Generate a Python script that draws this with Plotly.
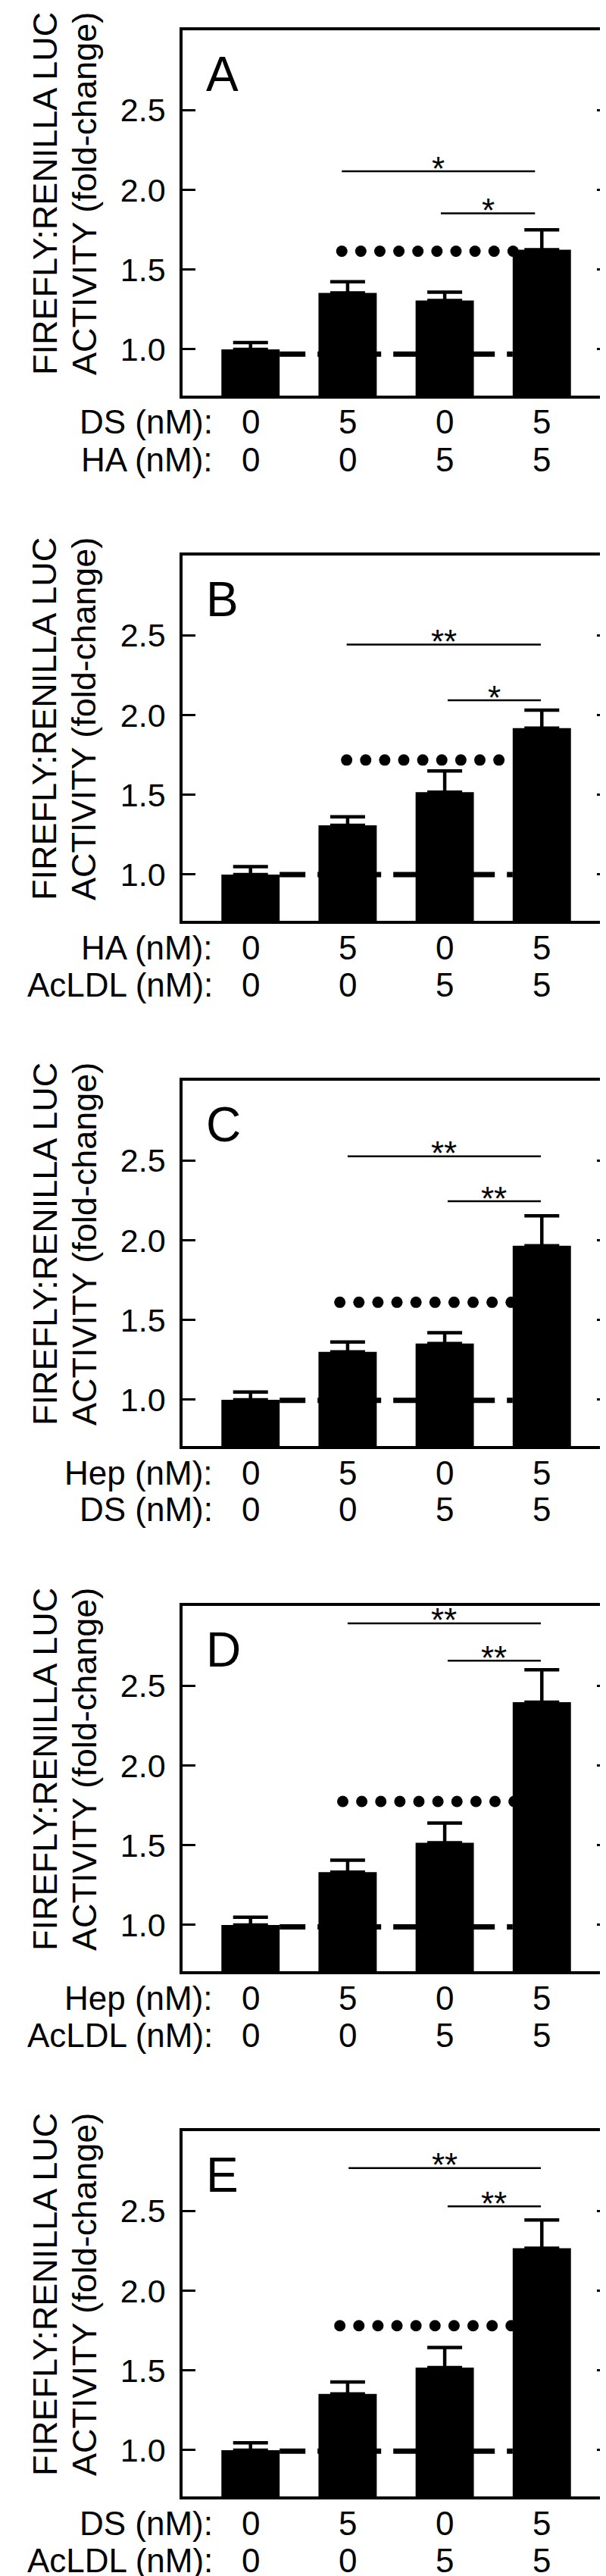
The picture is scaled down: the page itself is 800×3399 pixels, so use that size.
import numpy as np
import plotly.graph_objects as go

W, H = 800, 3399
FONT = "Liberation Sans, Arial, sans-serif"

# ---------------- data ----------------
panels = ["A", "B", "C", "D", "E"]
categories = [0, 1, 2, 3]
row1_labels = ["DS (nM):", "HA (nM):", "Hep (nM):", "Hep (nM):", "DS (nM):"]
row2_labels = ["HA (nM):", "AcLDL (nM):", "DS (nM):", "AcLDL (nM):", "AcLDL (nM):"]
row1_values = ["0", "5", "0", "5"]
row2_values = ["0", "0", "5", "5"]

means_A = [1.00, 1.354, 1.306, 1.624]
errs_A = [0.042, 0.070, 0.053, 0.125]
means_B = [1.00, 1.309, 1.516, 1.918]
errs_B = [0.050, 0.053, 0.134, 0.113]
means_C = [1.00, 1.300, 1.352, 1.965]
errs_C = [0.048, 0.062, 0.068, 0.188]
means_D = [1.00, 1.331, 1.515, 2.397]
errs_D = [0.048, 0.075, 0.124, 0.203]
means_E = [1.00, 1.353, 1.518, 2.266]
errs_E = [0.046, 0.074, 0.126, 0.177]
means = [means_A, means_B, means_C, means_D, means_E]
errs = [errs_A, errs_B, errs_C, errs_D, errs_E]

# reference levels (dashed = control, dotted = additive)
dashed_level = [0.970, 1.000, 0.996, 0.988, 0.994]
dotted_level = [1.615, 1.718, 1.611, 1.774, 1.780]
dotted_start = [0.94, 0.99, 0.92, 0.95, 0.92]

# significance brackets: (x0, x1, y, label)
sig_upper = [(0.94, 2.93, 2.116, "*"), (0.99, 2.99, 2.442, "**"), (1.0, 2.99, 2.526, "**"),
             (1.0, 2.99, 2.891, "**"), (1.01, 2.99, 2.768, "**")]
sig_lower = [(1.96, 2.93, 1.853, "*"), (2.03, 2.99, 2.092, "*"), (2.03, 2.99, 2.244, "**"),
             (2.03, 2.99, 2.657, "**"), (2.03, 2.99, 2.528, "**")]

ytick_vals = [1.0, 1.5, 2.0, 2.5]
ytick_text = ["1.0", "1.5", "2.0", "2.5"]
y_title_1 = "FIREFLY:RENILLA LUC"
y_title_2 = "ACTIVITY (fold-change)"

# ---------------- layout geometry ----------------
PLOT_L, PLOT_R = 233, 797
TOP0, STEP, PH = 32, 693, 482

fig = go.Figure()
annotations = []
layout = dict(width=W, height=H, margin=dict(l=0, r=0, t=0, b=0),
              paper_bgcolor="white", plot_bgcolor="white", showlegend=False,
              font=dict(family=FONT, color="black", size=44))

def py(px):
    return 1 - px / H

for k, p in enumerate(panels):
    n = "" if k == 0 else str(k + 1)
    xa, ya = "x" + n, "y" + n
    top = TOP0 + STEP * k
    bot = top + PH

    layout["xaxis" + n] = dict(domain=[PLOT_L / W, PLOT_R / W], anchor=ya, range=[-0.7, 3.7],
                              showticklabels=False, ticks="", showgrid=False, zeroline=False,
                              showline=True, mirror=True, linecolor="black", linewidth=3.5)
    layout["yaxis" + n] = dict(domain=[py(bot), py(top)], anchor=xa, range=[0.71, 3.0],
                              tickvals=ytick_vals, ticktext=ytick_text, ticks="inside",
                              ticklen=17, tickwidth=3, tickcolor="black", mirror="ticks",
                              showline=True, linecolor="black", linewidth=3.5,
                              showgrid=False, zeroline=False,
                              tickfont=dict(size=43, family=FONT, color="black"),
                              ticklabelstandoff=10)

    # dashed control line
    fig.add_trace(go.Scatter(x=[0.3, 2.7], y=[dashed_level[k]] * 2, mode="lines",
                             line=dict(color="black", width=7, dash="34px,16px"),
                             xaxis=xa, yaxis=ya, hoverinfo="skip"))
    # bars
    fig.add_trace(go.Bar(x=categories, y=means[k], width=0.6, marker=dict(color="black", line=dict(width=0)),
                         error_y=dict(type="data", array=errs[k], arrayminus=[0] * 4, symmetric=False,
                                      color="black", thickness=4.5, width=23),
                         xaxis=xa, yaxis=ya, hoverinfo="skip"))
    # dotted additive line
    dx = np.arange(dotted_start[k], 2.75, 0.196)
    fig.add_trace(go.Scatter(x=dx, y=[dotted_level[k]] * len(dx), mode="markers",
                             marker=dict(color="black", size=15, symbol="circle", line=dict(width=0)),
                             xaxis=xa, yaxis=ya, hoverinfo="skip"))
    # significance lines
    for (x0, x1, yv, lab) in (sig_upper[k], sig_lower[k]):
        fig.add_trace(go.Scatter(x=[x0, x1], y=[yv, yv], mode="lines",
                                 line=dict(color="black", width=2.5),
                                 xaxis=xa, yaxis=ya, hoverinfo="skip"))
        annotations.append(dict(x=(x0 + x1) / 2, y=yv, xref=xa, yref=ya, text=lab, showarrow=False,
                                xanchor="center", yanchor="middle", yshift=4,
                                font=dict(size=44, family=FONT, color="black")))

    # panel letter
    annotations.append(dict(x=262 / W, y=py(top + 58), xref="paper", yref="paper", text=p,
                            showarrow=False, xanchor="left", yanchor="middle",
                            font=dict(size=64, family=FONT, color="black")))
    # y-axis title (two lines)
    for xpx, txt in ((51, y_title_1), (103, y_title_2)):
        annotations.append(dict(x=xpx / W, y=py(top + 216), xref="paper", yref="paper", text=txt,
                                textangle=-90, showarrow=False, xanchor="center", yanchor="middle",
                                font=dict(size=45, family=FONT, color="black")))
    # x condition rows
    for dy, lab, vals in ((35, row1_labels[k], row1_values), (84, row2_labels[k], row2_values)):
        annotations.append(dict(x=274 / W, y=py(bot + dy), xref="paper", yref="paper", text=lab,
                                showarrow=False, xanchor="right", yanchor="middle", borderpad=0,
                                font=dict(size=44, family=FONT, color="black")))
        for c, v in zip(categories, vals):
            annotations.append(dict(x=c, y=py(bot + dy), xref=xa, yref="paper", text=v,
                                    showarrow=False, xanchor="center", yanchor="middle", borderpad=0,
                                    font=dict(size=44, family=FONT, color="black")))

layout["annotations"] = annotations
fig.update_layout(**layout)
fig.write_html("out.html")
